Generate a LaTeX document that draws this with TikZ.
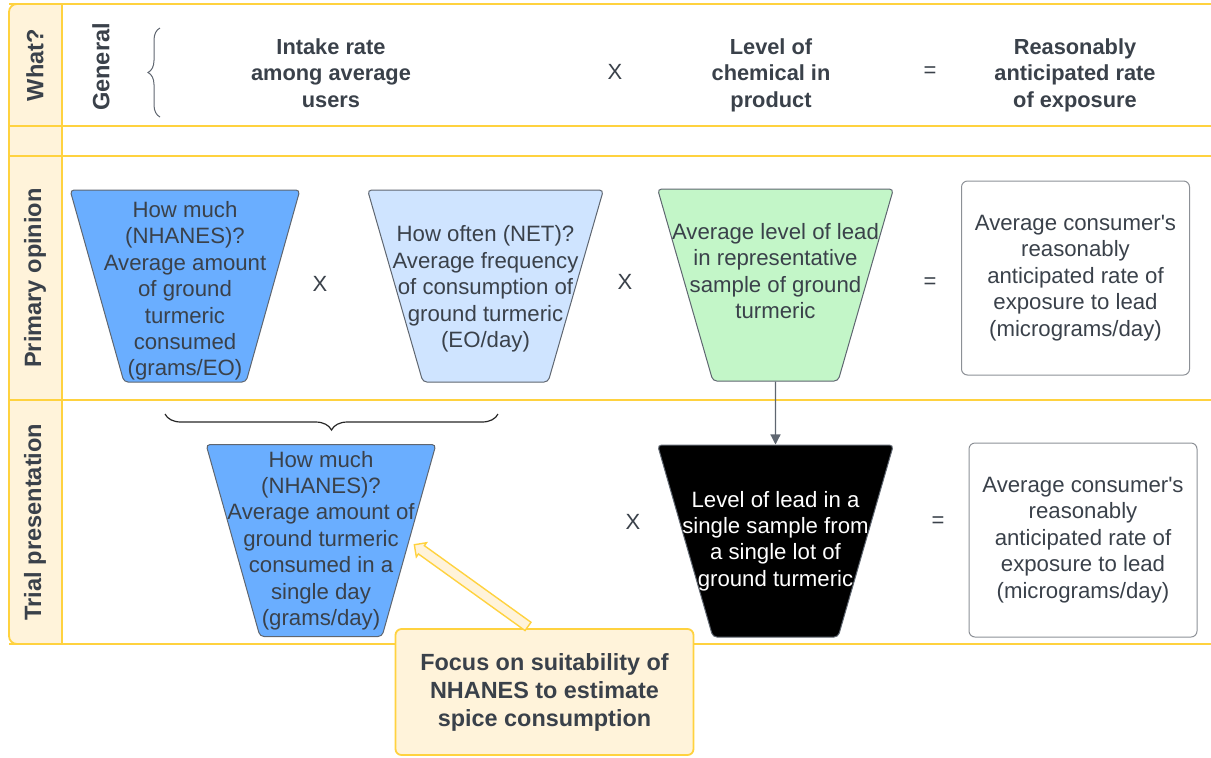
\documentclass[tikz,border=0pt]{standalone}
\usepackage{fontspec}
\setmainfont{Liberation Sans}
\usepackage{xcolor}
\usetikzlibrary{arrows.meta,positioning,calc,shapes.geometric,shapes.arrows,decorations.pathreplacing}
\definecolor{txtgray}{HTML}{3A414A}
\definecolor{laneline}{HTML}{FFD23F}
\definecolor{lanefill}{HTML}{FFF3DA}
\definecolor{nhblue}{HTML}{6AAEFF}
\definecolor{netblue}{HTML}{CFE4FF}
\definecolor{leadgreen}{HTML}{C3F6C8}
\definecolor{edgegray}{HTML}{5F6670}
\definecolor{boxgray}{HTML}{8C9096}
\tikzset{
  >={Triangle[length=5pt,width=5pt]},
  lane/.style={draw=laneline, line width=0.9pt},
  trap/.style={trapezium, shape border rotate=180, trapezium stretches=true,
    trapezium left angle=67, trapezium right angle=67, draw=edgegray, line width=0.5pt,
    rounded corners=2pt, minimum width=115pt, minimum height=96pt, inner sep=1pt},
  widetrap/.style={trap, minimum width=118pt},
  traptxt/.style={align=center, text=txtgray, font=\fontsize{11.1}{13.2}\selectfont, inner sep=0pt},
  outbox/.style={draw=boxgray, rounded corners=3pt, line width=0.5pt, minimum width=114pt,
    minimum height=97pt, align=center, text=txtgray, font=\fontsize{11.1}{13.2}\selectfont},
  op/.style={text=txtgray, font=\fontsize{11}{13}\selectfont},
  hdr/.style={align=center, text=txtgray, font=\bfseries\fontsize{10.9}{13.2}\selectfont},
  rowlbl/.style={rotate=90, text=txtgray, font=\bfseries\fontsize{11.8}{14}\selectfont},
  focus/.style={draw=laneline, fill=lanefill, rounded corners=3pt, line width=0.9pt,
    minimum width=149pt, minimum height=63pt, align=center, text=txtgray,
    font=\bfseries\fontsize{11.7}{14}\selectfont},
  focusarrow/.style={single arrow, draw=laneline, fill=lanefill, line width=0.7pt,
    minimum width=0pt, inner xsep=0pt, inner ysep=2.2pt, single arrow head extend=1.8pt},
}

\begin{document}
\begin{tikzpicture}[x=0.5pt, y=-0.5pt]
  \useasboundingbox (0,0) rectangle (1211,757);
  % lanes
  \filldraw[lane, fill=lanefill] (62,4) [rounded corners=4pt] -- (9,4) -- (9,644) [sharp corners] -- (62,644) -- cycle;
  \foreach \y in {4,126,156,400,644}
    \draw[lane] (9,\y) -- (1211,\y);
  \draw[lane] (62,4) -- (62,644);

  \node[rowlbl] (what) at (35,65) {What?};
  \node[rowlbl] (prim) at (35,278) {Primary opinion};
  \node[rowlbl] (trial) at (35,522) {Trial presentation};

  % general row
  \node[rowlbl] (gen) at (101,67) {General};
  \coordinate (gbr1) at (160,117);
  \coordinate (gbr2) at (160,28);
  \draw[edgegray, line width=0.5pt, decorate, decoration={brace, amplitude=6pt}] (gbr1) -- (gbr2);
  \node[hdr] (intake) at (331,73) {Intake rate\\among average\\users};
  \node[op] (x0) at (615,72) {X};
  \node[hdr] (level) at (771,75) {Level of\\chemical in\\product};
  \node[op] (eq0) at (930,72) {=};
  \node[hdr] (rate) at (1075,75) {Reasonably\\anticipated rate\\of exposure};

  % primary opinion
  \node[trap, fill=nhblue] (much) at (185,286) {\phantom{x}};
  \node[traptxt] (muchtxt) at ($(much)+(0,5)$) {How much\\(NHANES)?\\Average amount\\of ground\\turmeric\\consumed\\(grams/EO)};
  \node[op] (x1) at (320,284) {X};
  \node[widetrap, fill=netblue] (often) at (485.5,286) {\phantom{x}};
  \node[traptxt] (oftentxt) at ($(often)+(0,3)$) {How often (NET)?\\Average frequency\\of consumption of\\ground turmeric\\(EO/day)};
  \node[op] (x2) at (625,282) {X};
  \node[widetrap, fill=leadgreen] (lead) at (775.5,285) {\phantom{x}};
  \node[traptxt] (leadtxt) at ($(lead)+(0,-14)$) {Average level of lead\\in representative\\sample of ground\\turmeric};
  \node[op] (eq1) at (930,283) {=};
  \node[outbox] (expo1) at (1075.5,278) {Average consumer\textquotesingle s\\reasonably\\anticipated rate of\\exposure to lead\\(micrograms/day)};

  % trial presentation
  \coordinate (tbr1) at (498,414);
  \coordinate (tbr2) at (165,414);
  \draw[black!85, line width=0.6pt, decorate, decoration={brace, amplitude=8pt}] (tbr1) -- (tbr2);
  \node[trap, fill=nhblue] (much2) at (321,540.5) {\phantom{x}};
  \node[traptxt] (much2txt) at (much2) {How much\\(NHANES)?\\Average amount of\\ground turmeric\\consumed in a\\single day\\(grams/day)};
  \node[op] (x3) at (633,522) {X};
  \node[widetrap, fill=black] (lot) at (775.5,541) {\phantom{x}};
  \node[traptxt, text=white] (lottxt) at (lot) {Level of lead in a\\single sample from\\a single lot of\\ground turmeric};
  \node[op] (eq2) at (938,522) {=};
  \node[outbox] (expo2) at (1083,540) {Average consumer\textquotesingle s\\reasonably\\anticipated rate of\\exposure to lead\\(micrograms/day)};

  \draw[->, edgegray, line width=0.6pt] (lead) -- (lot);

  % callout
  \node[focus] (focus) at (544.5,692) {Focus on suitability of\\NHANES to estimate\\spice consumption};
  \coordinate (ftail) at ($(focus.north)+(-14,0)$);
  \coordinate (ftip) at (416,546);
  \node[focusarrow, minimum height=70pt, rotate=144.3] (farrow) at ($(ftail)!0.5!(ftip)$) {};
\end{tikzpicture}
\end{document}
